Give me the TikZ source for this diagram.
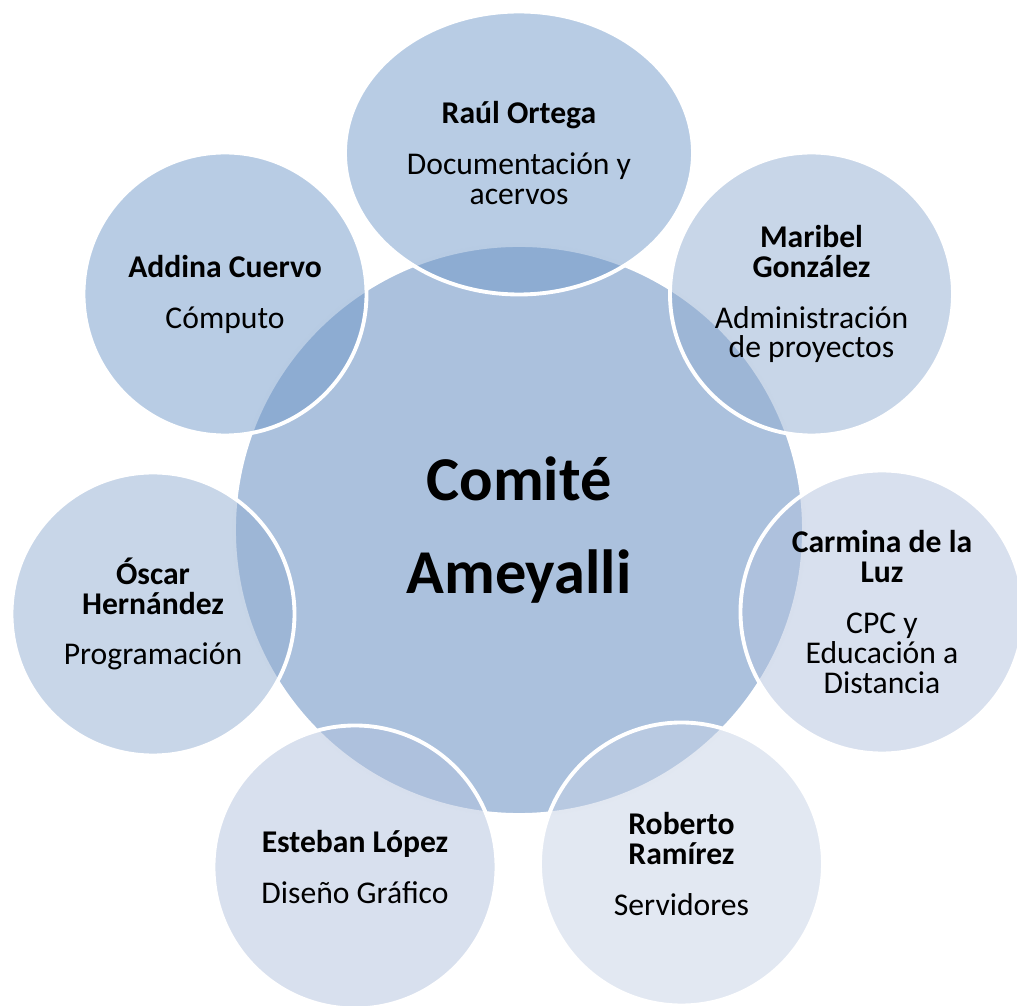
\documentclass[tikz,border=0pt]{standalone}
\usepackage{fontspec}
\setmainfont{Carlito}
\usetikzlibrary{positioning,shapes.geometric}

\definecolor{centro}{RGB}{171,193,221}
\definecolor{tonoa}{RGB}{113,153,201}
\definecolor{tonob}{RGB}{145,173,209}
\definecolor{tonoc}{RGB}{177,193,221}
\definecolor{tonod}{RGB}{197,209,229}

\newcommand{\nom}[1]{{\fontsize{18}{17}\selectfont\bfseries #1}}

\tikzset{
	miembro/.style={circle, minimum size=5.66cm, inner sep=0pt, draw=white, line width=2.2pt,
		fill opacity=0.5, text opacity=1, align=center, font=\fontsize{18}{17}\selectfont},
}

\begin{document}
\begin{tikzpicture}[on grid]
	\useasboundingbox (-10.38,-9.52) rectangle (9.96,10.6);
	%% centro
	\node[circle, minimum size=11.4cm, fill=centro, draw=white, line width=2.2pt,
		align=center, font=\fontsize{35.5}{53}\selectfont\bfseries] (comite) at (0,0) {Comité\\Ameyalli};
	%% alrededor
	\node[miembro, ellipse, minimum width=6.96cm, minimum height=5.66cm, fill=tonoa,
		above=7.54 of comite] (raul) {\nom{Raúl Ortega}\\[12pt]Documentación y\\acervos};
	\node[miembro, fill=tonob, above right=4.72 and 5.85 of comite] (maribel)
		{\nom{Maribel}\\\nom{González}\\[12pt]Administración\\de proyectos};
	\node[miembro, fill=tonoc, above right=-1.64 and 7.26 of comite] (carmina)
		{\nom{Carmina de la}\\\nom{Luz}\\[12pt]CPC y\\Educación a\\Distancia};
	\node[miembro, fill=tonod, above right=-6.68 and 3.25 of comite] (roberto)
		{\nom{Roberto}\\\nom{Ramírez}\\[12pt]Servidores};
	\node[miembro, fill=tonoc, above right=-6.74 and -3.28 of comite] (esteban)
		{\nom{Esteban López}\\[12pt]Diseño Gráfico};
	\node[miembro, fill=tonob, above right=-1.68 and -7.32 of comite] (oscar)
		{\nom{Óscar}\\\nom{Hernández}\\[12pt]Programación};
	\node[miembro, fill=tonoa, above right=4.72 and -5.88 of comite] (addina)
		{\nom{Addina Cuervo}\\[12pt]Cómputo};
\end{tikzpicture}
\end{document}
